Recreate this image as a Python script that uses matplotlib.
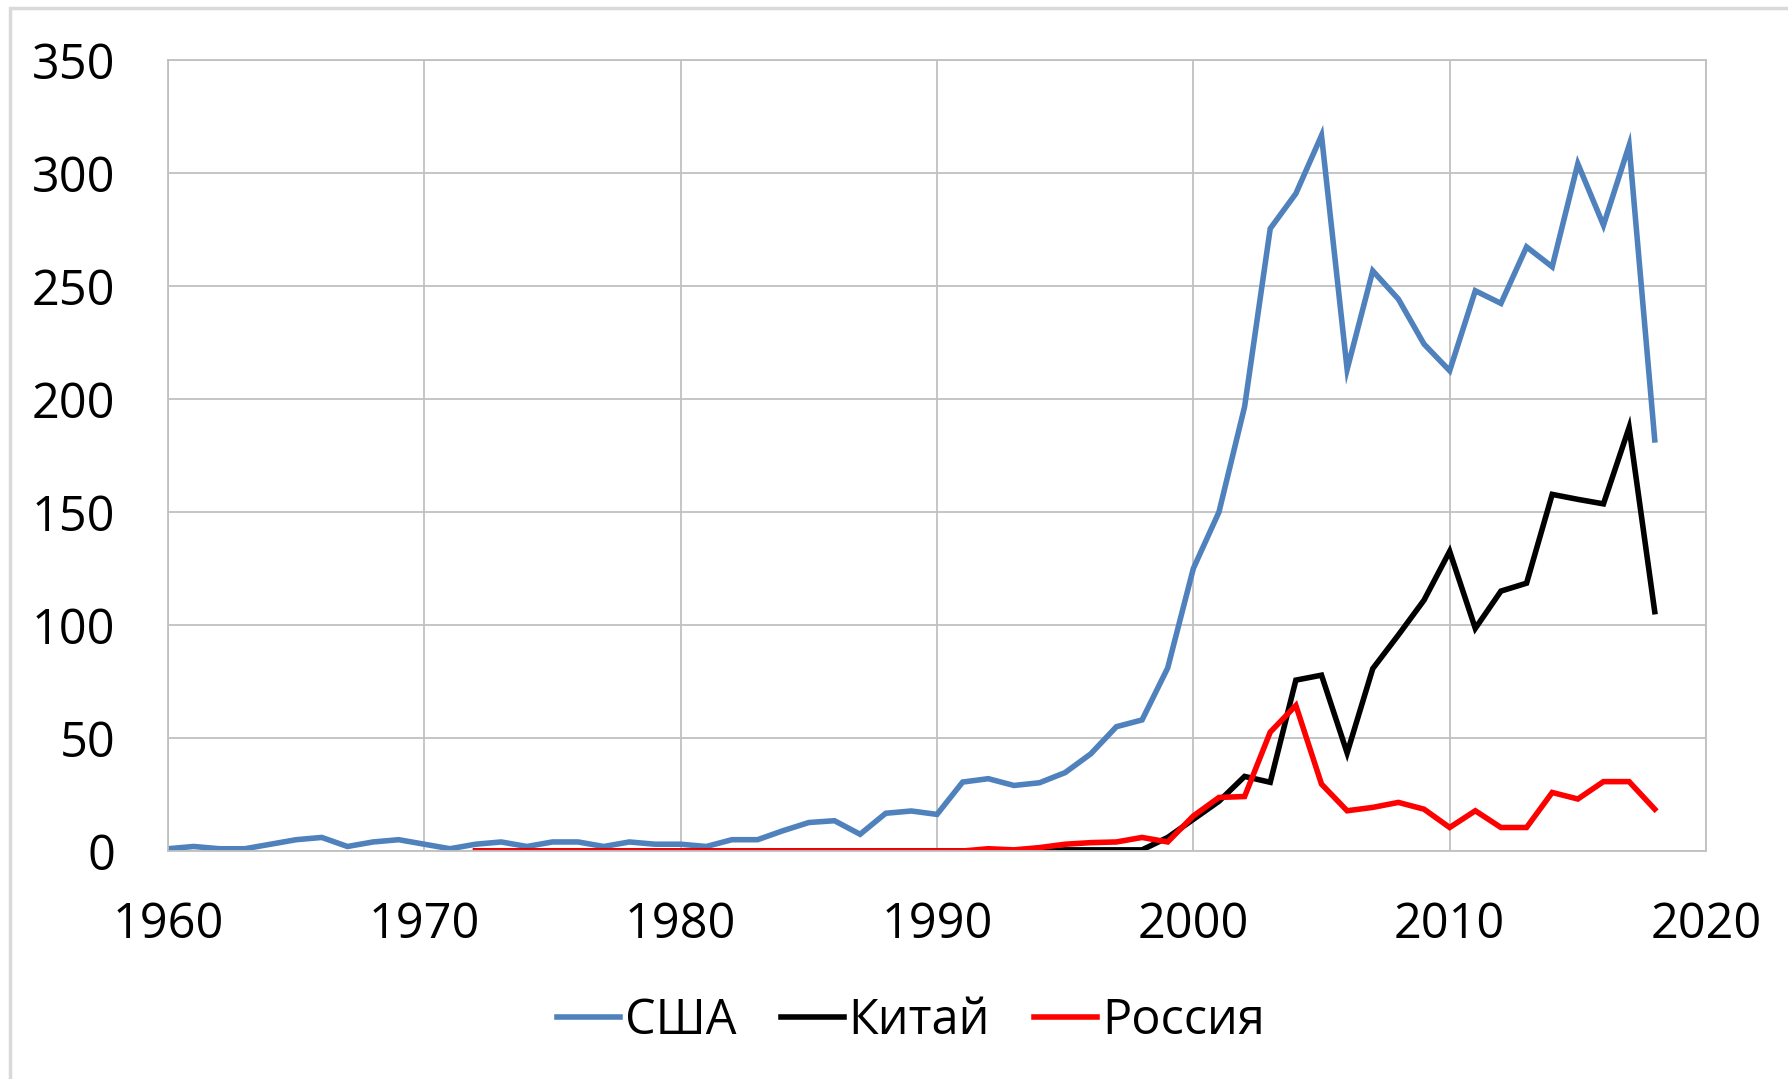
import matplotlib
matplotlib.use("Agg")
import matplotlib.pyplot as plt
from matplotlib.patches import Rectangle

plt.rcParams['font.family'] = ['Open Sans', 'DejaVu Sans']

years_usa = list(range(1960, 2019))
usa = [1, 2, 1, 1, 3, 5, 6, 2, 4, 5,
       3, 1, 3, 4, 2, 4, 4, 2, 4, 3,
       3, 2, 5, 5, 9, 12.6, 13.4, 7.4, 16.7, 17.7,
       16.2, 30.5, 32, 29, 30.2, 34.7, 43, 55, 58, 81,
       125, 150, 196.6, 275.4, 290.9, 316.6, 213.1, 256.7, 244.2, 224.3,
       212.5, 247.9, 242.3, 267.3, 258.5, 304.1, 276.9, 312.2, 181.9]

years_other = list(range(1972, 2019))
china = [0] * 22 + [0, 0.5, 0.5, 0.5, 0.5, 6, 14, 22, 33, 30.4,
                    75.6, 77.8, 43.4, 80.7, 95.6, 111, 132.6, 98.5, 115, 118.5,
                    157.8, 155.6, 153.6, 187.4, 105.9]
russia = [0] * 20 + [1, 0.5, 1.5, 3, 3.7, 4, 6, 4, 15.5, 23.7,
                     24.1, 52.6, 64.4, 29.6, 17.8, 19.3, 21.5, 18.5, 10.4, 17.8,
                     10.4, 10.4, 25.9, 23, 30.7, 30.7, 18.5]

labels = ['США', 'Китай', 'Россия']
colors = ['#4F81BD', '#000000', '#FF0000']

W, H = 1788, 1079
fig = plt.figure(figsize=(W / 100, H / 100), dpi=100)
fig.patches.append(Rectangle((10 / W, -0.1), 1.2, (H - 8) / H + 0.1,
                             transform=fig.transFigure, fill=False,
                             edgecolor='#d9d9d9', lw=2.5))

ax = fig.add_axes([168 / W, 1 - 851 / H, (1706 - 168) / W, (851 - 60) / H])
lw = 4.0
ax.plot(years_usa, usa, color=colors[0], lw=lw, label=labels[0], solid_joinstyle='miter')
ax.plot(years_other, china, color=colors[1], lw=lw, label=labels[1], solid_joinstyle='miter')
ax.plot(years_other, russia, color=colors[2], lw=lw, label=labels[2], solid_joinstyle='miter')

ax.set_xlim(1960, 2020)
ax.set_ylim(0, 350)
ax.set_xticks(range(1960, 2021, 10))
ax.set_yticks(range(0, 351, 50))
ax.grid(True, color='#c0c0c0', lw=1.3)
ax.set_axisbelow(True)
for s in ax.spines.values():
    s.set_color('#c0c0c0')
    s.set_linewidth(1.3)
ax.tick_params(length=0, labelsize=35, colors='black')
ax.tick_params(axis='y', pad=38)
ax.tick_params(axis='x', pad=36)

fig.legend(loc='center', bbox_to_anchor=(911 / W, 1 - 1021 / H), ncol=3,
           frameon=False, fontsize=35, handlelength=1.3, handletextpad=0.1,
           columnspacing=0.9)

fig.savefig('out.png', dpi=100)
